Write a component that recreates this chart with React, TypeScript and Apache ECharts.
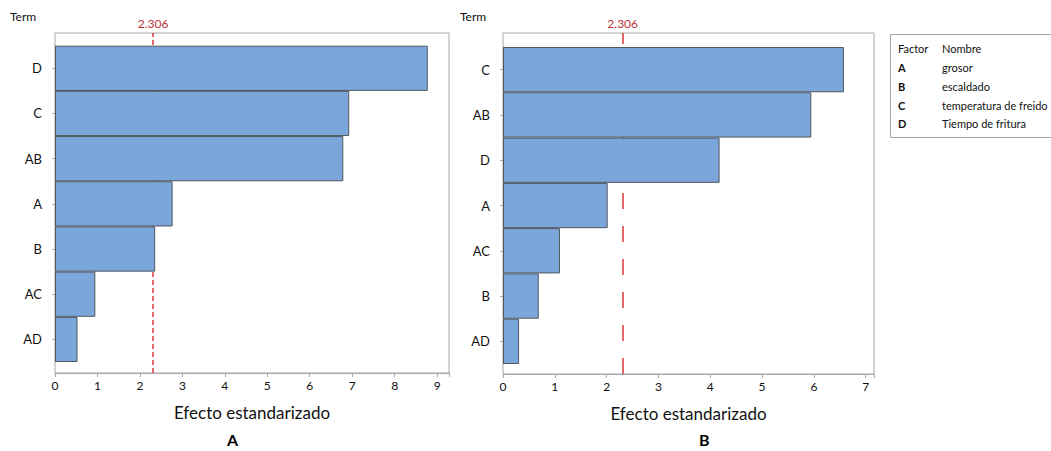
import React, { useEffect, useRef } from "react";
import * as echarts from "echarts";

const leftTerms = ["D", "C", "AB", "A", "B", "AC", "AD"];
const leftEffects = [8.78, 6.93, 6.79, 2.77, 2.36, 0.95, 0.53];
const rightTerms = ["C", "AB", "D", "A", "AC", "B", "AD"];
const rightEffects = [6.58, 5.95, 4.18, 2.02, 1.1, 0.69, 0.31];
const criticalValue = 2.306;
const leftAxisMax = 9.28;
const rightAxisMax = 7.16;
const factorLetters = ["A", "B", "C", "D"];
const factorNames = ["grosor", "escaldado", "temperatura de freido", "Tiempo de fritura"];
const panelLabels = ["A", "B"];

const FONT = "Lato, 'Noto Sans', sans-serif";
const BAR_COLOR = "#7ba6d9";
const BAR_BORDER = "#4f5660";
const FRAME = "#a8a8a8";
const RED = "#d9343c";
const TEXT = "#111";

export default function App() {
  const ref = useRef<HTMLDivElement>(null);
  useEffect(() => {
    document.body.style.margin = "0";
    const chart = echarts.init(ref.current!, null, { renderer: "svg" });

    const frameGrid = (left: number, top: number, width: number, height: number) => ({
      left, top, width, height, show: true, borderColor: FRAME, borderWidth: 1,
      backgroundColor: "#fff",
    });
    const hiddenX = (gi: number, max: number) => ({
      type: "value", gridIndex: gi, min: 0, max, show: false,
    });
    const hiddenY = (gi: number) => ({ type: "value", gridIndex: gi, min: 0, max: 1, show: false });
    const visibleX = (gi: number, max: number, offset: number) => ({
      type: "value", gridIndex: gi, min: 0, max, interval: 1, offset,
      axisLine: { show: true, lineStyle: { color: FRAME } },
      axisTick: { show: true, length: 4, lineStyle: { color: FRAME } },
      splitLine: { show: false },
      axisLabel: {
        color: TEXT, fontFamily: FONT, fontSize: 12, margin: 6,
        formatter: (v: number) => (Number.isInteger(v) ? String(v) : ""),
      },
      name: "Efecto estandarizado",
      nameLocation: "middle",
      nameGap: 31,
      nameTextStyle: { color: TEXT, fontFamily: FONT, fontSize: 17 },
    });
    const visibleY = (gi: number, data: string[]) => ({
      type: "category", gridIndex: gi, data, inverse: true,
      axisLine: { show: true, lineStyle: { color: FRAME } },
      axisTick: { show: true, alignWithLabel: true, length: 3, lineStyle: { color: FRAME } },
      axisLabel: { color: TEXT, fontFamily: FONT, fontSize: 13, margin: 13 },
    });
    const refLine = (xi: number, yi: number, dash: number[]) => ({
      type: "line", xAxisIndex: xi, yAxisIndex: yi, data: [], z: 1,
      markLine: {
        silent: true, z: 1, symbol: ["none", "none"],
        lineStyle: { color: RED, width: 1.5, type: dash },
        label: {
          show: true, position: "end", formatter: String(criticalValue),
          color: "#b8343a", fontFamily: FONT, fontSize: 12, distance: 4,
        },
        data: [{ xAxis: criticalValue }],
      },
    });
    const bars = (xi: number, yi: number, data: number[]) => ({
      type: "bar", xAxisIndex: xi, yAxisIndex: yi, data, barWidth: "100%", z: 3,
      itemStyle: { color: BAR_COLOR, borderColor: BAR_BORDER, borderWidth: 1 },
    });

    const legendRows: any[] = [
      { type: "text", left: 898, top: 43, style: { text: "Factor", fill: TEXT, font: `11px ${FONT}` } },
      { type: "text", left: 942, top: 43, style: { text: "Nombre", fill: TEXT, font: `11px ${FONT}` } },
    ];
    factorLetters.forEach((l, i) => {
      const y = 62 + i * 18.8;
      legendRows.push({ type: "text", left: 898, top: y, style: { text: l, fill: TEXT, font: `bold 11px ${FONT}` } });
      legendRows.push({ type: "text", left: 942, top: y, style: { text: factorNames[i], fill: TEXT, font: `11px ${FONT}` } });
    });

    chart.setOption({
      animation: false,
      backgroundColor: "#fff",
      grid: [
        frameGrid(55, 33, 394, 340),
        { left: 55, top: 45.7, width: 394, height: 316.3 },
        frameGrid(503, 33, 371, 341),
        { left: 503, top: 47, width: 371, height: 317 },
      ],
      xAxis: [
        hiddenX(0, leftAxisMax),
        visibleX(1, leftAxisMax, 11),
        hiddenX(2, rightAxisMax),
        visibleX(3, rightAxisMax, 10),
      ],
      yAxis: [
        hiddenY(0),
        visibleY(1, leftTerms),
        hiddenY(2),
        visibleY(3, rightTerms),
      ],
      series: [
        refLine(0, 0, [5, 3]),
        bars(1, 1, leftEffects),
        refLine(2, 2, [16, 17]),
        bars(3, 3, rightEffects),
      ],
      graphic: [
        { type: "text", left: 10, top: 10, style: { text: "Term", fill: TEXT, font: `12px ${FONT}` } },
        { type: "text", left: 460, top: 10, style: { text: "Term", fill: TEXT, font: `12px ${FONT}` } },
        { type: "text", left: 227, top: 431, style: { text: panelLabels[0], fill: "#000", font: `bold 16px ${FONT}` } },
        { type: "text", left: 699, top: 431, style: { text: panelLabels[1], fill: "#000", font: `bold 16px ${FONT}` } },
        {
          type: "rect", left: 890, top: 34, shape: { x: 0, y: 0, width: 200, height: 103 },
          style: { fill: "#fff", stroke: FRAME, lineWidth: 1 },
        },
        ...legendRows,
      ],
    });
    return () => chart.dispose();
  }, []);
  return <div ref={ref} style={{ width: 1051, height: 451 }} />;
}
